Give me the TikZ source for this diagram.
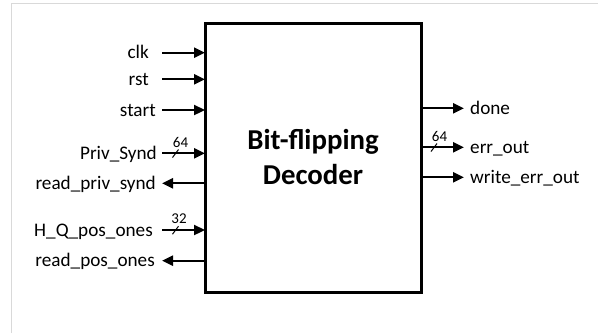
\documentclass[tikz,border=0pt]{standalone}
\usepackage{fontspec}
\setmainfont{Carlito}
\usetikzlibrary{arrows.meta}
\begin{document}
\begin{tikzpicture}[x=1pt,y=-1pt,
  sig/.style={line width=2.3pt,-{Triangle[length=11pt,width=10pt]}},
  lbl/.style={inner sep=0pt,font=\fontsize{19.2}{21}\selectfont},
  buslbl/.style={inner sep=0pt,font=\fontsize{15}{16}\selectfont},
  slashmark/.style={line width=1pt}]
\useasboundingbox (0,0) rectangle (598,333);
\draw[color=black!15,line width=1pt] (11,333) -- (11,3.5) -- (598,3.5);
\node[draw,line width=3pt,minimum width=216pt,minimum height=269pt,inner sep=0pt] (dec) at (313,157.5) {};
\node[inner sep=0pt,align=center,font=\fontsize{28.8}{35}\bfseries\selectfont] (title) at (313,157) {Bit-flipping\\Decoder};
% left side
\foreach \nm/\yy/\lx/\txt/\dir in {clk/52.7/149/clk/in, rst/79.3/149/rst/in, start/110/156/start/in, priv/153.3/157/Priv\_Synd/in, rps/183.3/156/read\_priv\_synd/out, hq/230/153/H\_Q\_pos\_ones/in, rpo/260.7/155/read\_pos\_ones/out}{
  \node[lbl,anchor=base east] (\nm) at (\lx,\yy+6) {\txt};
  \coordinate (\nm-o) at (162,\yy);
  \coordinate (\nm-b) at (205,\yy);
}
\foreach \nm in {clk,rst,start,priv,hq}{\draw[sig] (\nm-o) -- (\nm-b);}
\foreach \nm in {rps,rpo}{\draw[sig] (\nm-b) -- (\nm-o);}
% right side
\foreach \nm/\yy/\txt in {done/108.3/done, err/147.3/err\_out, wer/177.3/write\_err\_out}{
  \node[lbl,anchor=base west] (\nm) at (470,\yy+6) {\txt};
  \coordinate (\nm-b) at (421,\yy);
  \coordinate (\nm-o) at (464,\yy);
  \draw[sig] (\nm-b) -- (\nm-o);
}
% bus widths
\coordinate (s1a) at (172.5,157.5); \coordinate (s1b) at (178.5,149.5);
\draw[slashmark] (s1a) -- (s1b);
\node[buslbl] (w64a) at (180.5,142) {64};
\coordinate (s2a) at (172.5,234.2); \coordinate (s2b) at (178.5,226.2);
\draw[slashmark] (s2a) -- (s2b);
\node[buslbl] (w32) at (179,218.5) {32};
\coordinate (s3a) at (431,151.5); \coordinate (s3b) at (437,143.5);
\draw[slashmark] (s3a) -- (s3b);
\node[buslbl] (w64b) at (439.5,136.5) {64};
\end{tikzpicture}
\end{document}
